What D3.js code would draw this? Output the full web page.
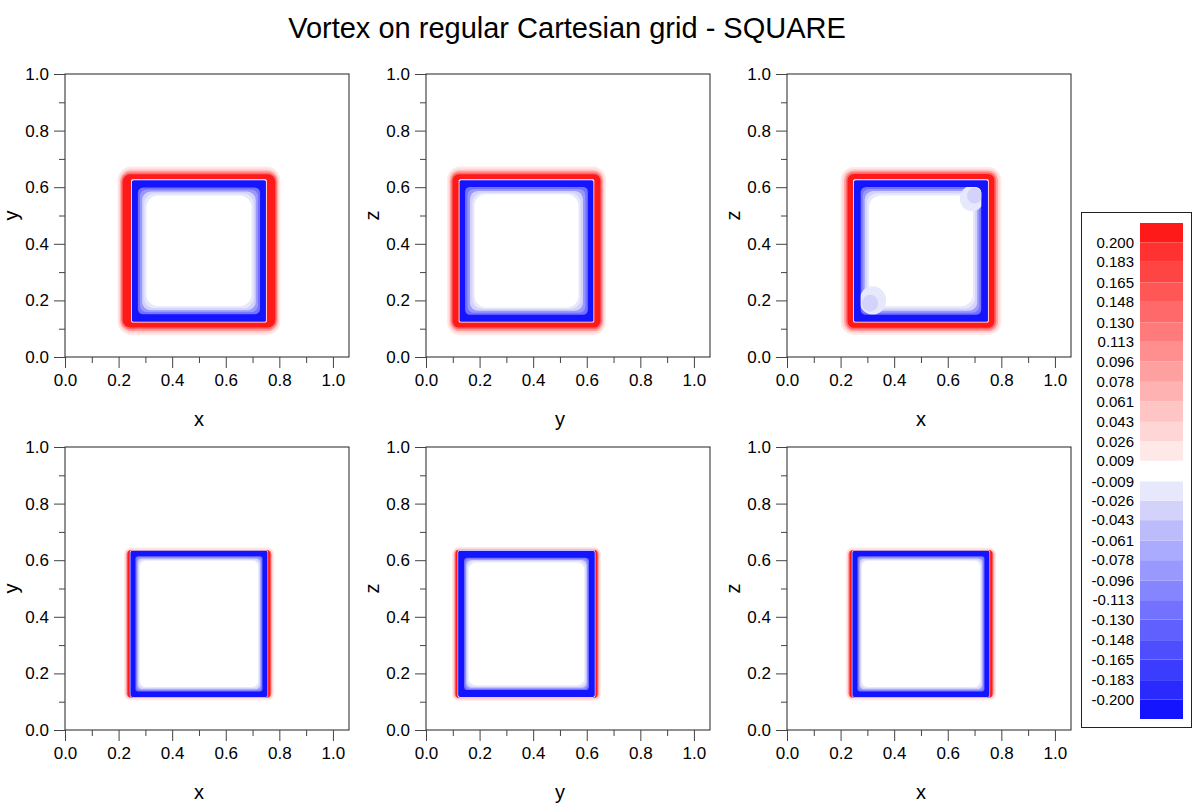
<!DOCTYPE html>
<html>
<head>
<meta charset="utf-8">
<script src="https://d3js.org/d3.v7.min.js"></script>
<style>
  body { margin: 0; background: #fff; }
  text { font-family: "Liberation Sans", Arial, sans-serif; fill: #000; }
</style>
</head>
<body>
<div id="chart"></div>
<script>
// ---- data ----
var chartTitle = "Vortex on regular Cartesian grid - SQUARE";
var axisNames = [["x", "y"], ["y", "z"], ["x", "z"], ["x", "y"], ["y", "z"], ["x", "z"]];
var squareH = [[0.25, 0.75], [0.125, 0.625], [0.25, 0.75], [0.25, 0.75], [0.125, 0.625], [0.25, 0.75]];
var squareV = [[0.125, 0.625], [0.125, 0.625], [0.125, 0.625], [0.125, 0.625], [0.125, 0.625], [0.125, 0.625]];

// value of each nested layer, outermost first
var layerValues = [0.015, 0.04, 0.08, 0.13, 0.21, 0, -0.21, -0.13, -0.08, -0.04, -0.015, 0];
// outer edge of each layer, distance outside the square edge (data units)
var offsetsH = [
  [0.054, 0.049, 0.044, 0.040, 0.035, 0.003, 0.0, -0.022, -0.030, -0.038, -0.046, -0.054],
  [0.046, 0.041, 0.036, 0.031, 0.026, 0.003, 0.0, -0.021, -0.030, -0.039, -0.048, -0.056],
  [0.050, 0.044, 0.037, 0.030, 0.024, 0.003, 0.0, -0.025, -0.032, -0.040, -0.048, -0.056],
  [0.030, 0.026, 0.022, 0.019, 0.016, 0.008, 0.006, -0.013, -0.017, -0.021, -0.025, -0.029],
  [0.028, 0.024, 0.020, 0.017, 0.014, 0.007, 0.005, -0.017, -0.021, -0.025, -0.029, -0.034],
  [0.030, 0.026, 0.022, 0.019, 0.016, 0.008, 0.006, -0.013, -0.017, -0.021, -0.025, -0.029]
];
var offsetsV = [
  [0.048, 0.041, 0.034, 0.027, 0.021, 0.003, 0.0, -0.026, -0.033, -0.040, -0.047, -0.054],
  [0.048, 0.041, 0.034, 0.027, 0.021, 0.003, 0.0, -0.024, -0.031, -0.038, -0.045, -0.050],
  [0.046, 0.040, 0.034, 0.028, 0.022, 0.003, 0.0, -0.024, -0.031, -0.038, -0.046, -0.054],
  [0.020, 0.014, 0.010, 0.010, 0.010, 0.010, 0.008, -0.011, -0.015, -0.019, -0.023, -0.027],
  [0.022, 0.017, 0.013, 0.011, 0.011, 0.011, 0.008, -0.016, -0.020, -0.024, -0.028, -0.033],
  [0.020, 0.014, 0.010, 0.010, 0.010, 0.010, 0.008, -0.011, -0.015, -0.019, -0.023, -0.027]
];
// weak spots of vorticity inside the x-z square (top row, right panel)
var blobPanel = [2, 2, 2, 2];
var blobX = [0.32, 0.31, 0.69, 0.70];
var blobY = [0.20, 0.19, 0.56, 0.57];
var blobR = [0.05, 0.03, 0.045, 0.028];
var blobValue = [-0.015, -0.035, -0.015, -0.035];

var levelTicks = [-0.200, -0.183, -0.165, -0.148, -0.130, -0.113, -0.096, -0.078, -0.061, -0.043, -0.026, -0.009,
                  0.009, 0.026, 0.043, 0.061, 0.078, 0.096, 0.113, 0.130, 0.148, 0.165, 0.183, 0.200];
var blueRamp = ["#1414ff", "#2a2aff", "#3c3cff", "#4e4eff", "#6060ff", "#7272ff",
                "#8585ff", "#9898ff", "#aaaaff", "#bcbcfc", "#d2d2fb", "#e8e8fc"];
var redRamp = ["#ffe8e8", "#ffd6d6", "#ffc4c4", "#ffb2b2", "#ffa0a0", "#ff8e8e",
               "#ff7b7b", "#ff6969", "#ff5656", "#ff4444", "#ff3131", "#ff1a1a"];
var axisTicks = [0, 0.2, 0.4, 0.6, 0.8, 1.0];
var minorTicks = [0.1, 0.3, 0.5, 0.7, 0.9];

// ---- layout ----
var W = 1199, H = 807;
var colLeft = [65, 426, 787], rowTop = [74, 447];
var pw = 284, ph = 283;

function fmt(spec) {
  var f = d3.format(spec);
  return function (d) { return f(d).replace("\u2212", "-"); };
}

var svg = d3.select("#chart").append("svg").attr("width", W).attr("height", H);

svg.append("text")
  .attr("x", 567).attr("y", 38)
  .attr("text-anchor", "middle")
  .style("font-size", "29px")
  .text(chartTitle);

var bandColors = blueRamp.concat(["#ffffff"]).concat(redRamp);
var color = d3.scaleThreshold().domain(levelTicks).range(bandColors);

axisNames.forEach(function (names, p) {
  var left = colLeft[p % 3], top = rowTop[Math.floor(p / 3)];
  var x = d3.scaleLinear().domain([0, 1.06]).range([left, left + pw]);
  var y = d3.scaleLinear().domain([0, 1]).range([top + ph, top]);
  var g = svg.append("g");

  g.append("clipPath").attr("id", "clip" + p)
    .append("rect").attr("x", left).attr("y", top).attr("width", pw).attr("height", ph);

  var field = g.append("g").attr("clip-path", "url(#clip" + p + ")");
  var h = squareH[p], v = squareV[p];
  function layerRect(sel, i) {
    var dx = offsetsH[p][i], dy = offsetsV[p][i];
    var x0 = x(h[0] - dx), x1 = x(h[1] + dx);
    var y0 = y(v[1] + dy), y1 = y(v[0] - dy);
    var r = (Math.abs(x(dx) - x(0)) + Math.abs(y(0) - y(dy))) / 2;
    r = dx >= 0 ? Math.max(1.5, r) : Math.max(2, r * 0.8);
    return sel.append("rect")
      .attr("x", x0).attr("y", y0)
      .attr("width", Math.max(0, x1 - x0)).attr("height", Math.max(0, y1 - y0))
      .attr("rx", r).attr("ry", r);
  }
  layerValues.forEach(function (val, i) {
    layerRect(field, i).attr("fill", color(val));
  });

  // soft spots, kept inside the strong blue band
  var inner = g.append("clipPath").attr("id", "inner" + p);
  layerRect(inner, 7);
  var spots = field.append("g").attr("clip-path", "url(#inner" + p + ")");
  blobPanel.forEach(function (bp, k) {
    if (bp !== p) return;
    spots.append("ellipse")
      .attr("cx", x(blobX[k])).attr("cy", y(blobY[k]))
      .attr("rx", x(blobR[k]) - x(0)).attr("ry", y(0) - y(blobR[k]))
      .attr("fill", color(blobValue[k]));
  });

  // frame
  g.append("rect").attr("x", left).attr("y", top).attr("width", pw).attr("height", ph)
    .attr("fill", "none").attr("stroke", "#222").attr("stroke-width", 1);

  g.append("g").attr("transform", "translate(0," + (top + ph) + ")")
    .call(d3.axisBottom(x).tickValues(axisTicks).tickSize(11).tickPadding(6).tickFormat(fmt(".1f")));
  g.append("g").attr("transform", "translate(0," + (top + ph) + ")")
    .call(d3.axisBottom(x).tickValues(minorTicks).tickSize(6).tickFormat(""));
  g.append("g").attr("transform", "translate(" + left + ",0)")
    .call(d3.axisLeft(y).tickValues(axisTicks).tickSize(11).tickPadding(5).tickFormat(fmt(".1f")));
  g.append("g").attr("transform", "translate(" + left + ",0)")
    .call(d3.axisLeft(y).tickValues(minorTicks).tickSize(6).tickFormat(""));

  g.selectAll(".domain").remove();
  g.selectAll(".tick line").attr("stroke", "#444");
  g.selectAll(".tick text").style("font-size", "17px").attr("fill", "#000");

  g.append("text")
    .attr("x", left + pw / 2 - 8).attr("y", top + ph + 69)
    .attr("text-anchor", "middle").style("font-size", "20px")
    .text(names[0]);
  g.append("text")
    .attr("transform", "translate(" + (left - 47) + "," + (top + ph / 2) + ") rotate(-90)")
    .attr("text-anchor", "middle").style("font-size", "20px")
    .text(names[1]);
});

// ---- colour bar ----
var step = levelTicks[levelTicks.length - 1] - levelTicks[levelTicks.length - 2];
var cbY = d3.scaleLinear().domain([levelTicks[0] - step, levelTicks[levelTicks.length - 1] + step]).range([719, 223]);
var edges = [levelTicks[0] - step].concat(levelTicks).concat([levelTicks[levelTicks.length - 1] + step]);
var cb = svg.append("g");
cb.append("rect").attr("x", 1081.5).attr("y", 212.5).attr("width", 110).attr("height", 515)
  .attr("fill", "#fff").attr("stroke", "#222");
cb.selectAll("rect.band").data(d3.range(edges.length - 1)).enter().append("rect")
  .attr("class", "band")
  .attr("x", 1140).attr("width", 43)
  .attr("y", function (i) { return cbY(edges[i + 1]); })
  .attr("height", function (i) { return cbY(edges[i]) - cbY(edges[i + 1]); })
  .attr("fill", function (i) { return bandColors[i]; });
cb.selectAll("text.lev").data(levelTicks).enter().append("text")
  .attr("class", "lev")
  .attr("x", 1134).attr("y", function (d) { return cbY(d); })
  .attr("dy", "0.35em").attr("text-anchor", "end")
  .style("font-size", "15px")
  .text(fmt(".3f"));
</script>
</body>
</html>
